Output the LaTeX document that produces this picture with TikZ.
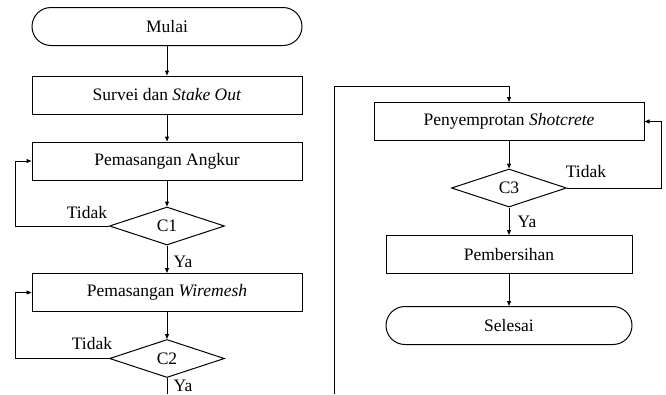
\documentclass[tikz,border=0pt]{standalone}
\usepackage{fontspec}
\setmainfont{Liberation Serif}
\usetikzlibrary{shapes.geometric,shapes.misc,arrows.meta}
\begin{document}
\begin{tikzpicture}[x=1pt,y=-1pt,
  font=\fontsize{17.5}{20}\selectfont,
  box/.style={draw,line width=1pt,rectangle,minimum height=38pt,inner sep=0pt},
  term/.style={draw,line width=1pt,rounded rectangle,minimum height=38pt,inner sep=0pt},
  dec/.style={draw,line width=1pt,diamond,minimum width=115pt,minimum height=38pt,inner sep=0pt},
  arr/.style={line width=1pt,-{Triangle[length=5pt,width=4pt]}},
  ln/.style={line width=1pt},
  lbl/.style={inner sep=0pt}]
\useasboundingbox (0,0) rectangle (666,394);
% left column
\node[term,minimum width=270pt] (mulai) at (167,26.5) {Mulai};
\node[box,minimum width=270pt] (survei) at (167,95) {Survei dan \textit{Stake Out}};
\node[box,minimum width=270pt] (angkur) at (167,161) {Pemasangan Angkur};
\node[dec] (c1) at (167,226) {C1};
\node[box,minimum width=270pt] (wire) at (167,292.5) {Pemasangan \textit{Wiremesh}};
\node[dec] (c2) at (167,358.5) {C2};
% right column
\node[box,minimum width=270pt] (shot) at (509,121.5) {Penyemprotan \textit{Shotcrete}};
\node[dec] (c3) at (509,188) {C3};
\node[box,minimum width=246pt] (bersih) at (509,254.5) {Pembersihan};
\node[term,minimum width=246pt] (selesai) at (509,325.5) {Selesai};
% coordinates
\coordinate (l1) at (15,226);
\coordinate (l1t) at (15,161);
\coordinate (l2) at (15,358.5);
\coordinate (l2t) at (15,292.5);
\coordinate (c2end) at (167,394);
\coordinate (rb) at (334,394);
\coordinate (rt) at (334,86);
\coordinate (rtt) at (509,86);
\coordinate (r3) at (661,188);
\coordinate (r3t) at (661,121.5);
% connectors
\draw[arr] (mulai) -- (survei);
\draw[arr] (survei) -- (angkur);
\draw[arr] (angkur) -- (c1);
\draw[arr] (c1) -- (wire);
\draw[arr] (c1.west) -- (l1) -- (l1t) -- (angkur.west);
\draw[arr] (wire) -- (c2);
\draw[arr] (c2.west) -- (l2) -- (l2t) -- (wire.west);
\draw[ln] (c2.south) -- (c2end);
\draw[arr] (rb) -- (rt) -- (rtt) -- (shot.north);
\draw[arr] (shot) -- (c3);
\draw[arr] (c3.east) -- (r3) -- (r3t) -- (shot.east);
\draw[arr] (c3) -- (bersih);
\draw[arr] (bersih) -- (selesai);
% labels
\node[lbl] (t1) at (87,213) {Tidak};
\node[lbl] (y1) at (183,262) {Ya};
\node[lbl] (t2) at (92,344) {Tidak};
\node[lbl] (y2) at (183,385.5) {Ya};
\node[lbl] (t3) at (586,172) {Tidak};
\node[lbl] (y3) at (527,222) {Ya};
\end{tikzpicture}
\end{document}
